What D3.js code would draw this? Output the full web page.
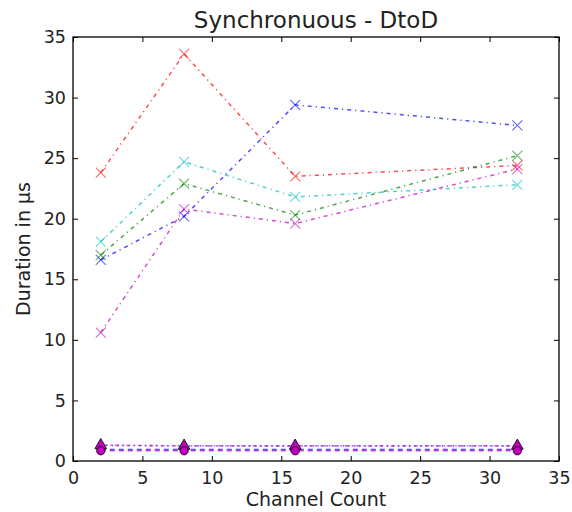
<!DOCTYPE html>
<html><head><meta charset="utf-8">
<script src="https://cdn.jsdelivr.net/npm/d3@7"></script>
<style>body{margin:0;background:#fff}svg{display:block}text{font-family:"DejaVu Sans",sans-serif;fill:#222}</style>
</head><body>
<svg id="c" width="572" height="512"></svg>
<script>
const channels = [2, 8, 16, 32];
const seriesRed = [23.8, 33.6, 23.5, 24.4];
const seriesBlue = [16.6, 20.2, 29.4, 27.7];
const seriesCyan = [18.1, 24.7, 21.8, 22.8];
const seriesGreen = [17.0, 22.9, 20.3, 25.2];
const seriesMagenta = [10.6, 20.8, 19.6, 24.1];
const lowDottedBlue = [1.3, 1.25, 1.25, 1.25];
const lowDottedMagenta = [1.3, 1.25, 1.25, 1.25];
const lowDashedBlue = [0.95, 0.95, 0.95, 0.95];
const lowDashedMagenta = [0.85, 0.85, 0.85, 0.85];
const xTicks = [0, 5, 10, 15, 20, 25, 30, 35];
const yTicks = [0, 5, 10, 15, 20, 25, 30, 35];

const svg = d3.select("#c");
const L = 73, R = 559, T = 37, B = 461;
const x = d3.scaleLinear().domain([0, 35]).range([L, R]);
const y = d3.scaleLinear().domain([0, 35]).range([B, T]);

const mainSeries = [
  {v: seriesRed, c: "#ff0000"},
  {v: seriesBlue, c: "#0000ff"},
  {v: seriesCyan, c: "#00bfbf"},
  {v: seriesGreen, c: "#008000"},
  {v: seriesMagenta, c: "#bf00bf"}
];
const line = d3.line().x((d,i)=>x(channels[i])).y(d=>y(d));

const plot = svg.append("g");
mainSeries.forEach(s => {
  plot.append("path").attr("d", line(s.v)).attr("fill","none")
    .attr("stroke", s.c).attr("stroke-width", 1.5).attr("stroke-opacity", 0.7)
    .attr("stroke-dasharray", "4,4,1.2,4");
});
mainSeries.forEach(s => {
  s.v.forEach((d,i) => {
    const cx = x(channels[i]), cy = y(d), r = 5;
    plot.append("path").attr("d", `M${cx-r},${cy-r}L${cx+r},${cy+r}M${cx-r},${cy+r}L${cx+r},${cy-r}`)
      .attr("stroke", s.c).attr("stroke-width", 1.1).attr("stroke-opacity", 0.6).attr("fill","none");
  });
});

// low series
plot.append("path").attr("d", line(lowDottedBlue)).attr("fill","none").attr("stroke","#0000ff")
  .attr("stroke-width",1.6).attr("stroke-opacity",0.6).attr("stroke-dasharray","1.5,4");
plot.append("path").attr("d", line(lowDottedMagenta)).attr("fill","none").attr("stroke","#bf00bf")
  .attr("stroke-width",1.6).attr("stroke-opacity",0.6).attr("stroke-dasharray","1.5,3,4,3").attr("stroke-dashoffset",2);
plot.append("path").attr("d", line(lowDashedBlue)).attr("fill","none").attr("stroke","#0000ff")
  .attr("stroke-width",1.6).attr("stroke-opacity",0.7).attr("stroke-dasharray","5,4");
plot.append("path").attr("d", line(lowDashedMagenta)).attr("fill","none").attr("stroke","#bf00bf")
  .attr("stroke-width",1.6).attr("stroke-opacity",0.7).attr("stroke-dasharray","5,4");

const tri = d3.symbol().type(d3.symbolTriangle).size(60);
const circ = d3.symbol().type(d3.symbolCircle).size(55);
lowDottedMagenta.forEach((d,i)=>{
  plot.append("path").attr("d", tri()).attr("transform",`translate(${x(channels[i])},${y(d)})`)
    .attr("fill","#bf00bf").attr("stroke","#000").attr("stroke-width",0.8);
});
lowDashedMagenta.forEach((d,i)=>{
  plot.append("path").attr("d", circ()).attr("transform",`translate(${x(channels[i])},${y(d)})`)
    .attr("fill","#bf00bf").attr("stroke","#000").attr("stroke-width",0.8);
});

// axes
const fs = 17.5;
const ax = d3.axisBottom(x).tickValues(xTicks).tickSize(-5).tickPadding(10.5).tickFormat(d3.format("d"));
const ay = d3.axisLeft(y).tickValues(yTicks).tickSize(-5).tickPadding(7).tickFormat(d3.format("d"));
const gx = svg.append("g").attr("transform",`translate(0,${B})`).call(ax);
const gy = svg.append("g").attr("transform",`translate(${L},0)`).call(ay);
const gxt = svg.append("g").attr("transform",`translate(0,${T})`).call(d3.axisTop(x).tickValues(xTicks).tickSize(-5).tickFormat(""));
const gyr = svg.append("g").attr("transform",`translate(${R},0)`).call(d3.axisRight(y).tickValues(yTicks).tickSize(-5).tickFormat(""));
[gx,gy,gxt,gyr].forEach(g=>{
  g.select(".domain").remove();
  g.selectAll(".tick line").attr("stroke","#000").attr("stroke-width",1);
  g.selectAll("text").attr("font-family","DejaVu Sans").attr("font-size",fs).attr("fill","#222");
});
svg.append("rect").attr("x",L).attr("y",T).attr("width",R-L).attr("height",B-T)
  .attr("fill","none").attr("stroke","#000").attr("stroke-width",1.3);

svg.append("text").attr("x",(L+R)/2).attr("y",28).attr("text-anchor","middle")
  .attr("font-size",23).text("Synchronuous - DtoD");
svg.append("text").attr("x",(L+R)/2).attr("y",506).attr("text-anchor","middle")
  .attr("font-size",19).text("Channel Count");
svg.append("text").attr("transform",`translate(30,${(T+B)/2}) rotate(-90)`).attr("text-anchor","middle")
  .attr("font-size",19).text("Duration in µs");
</script>
</body></html>
